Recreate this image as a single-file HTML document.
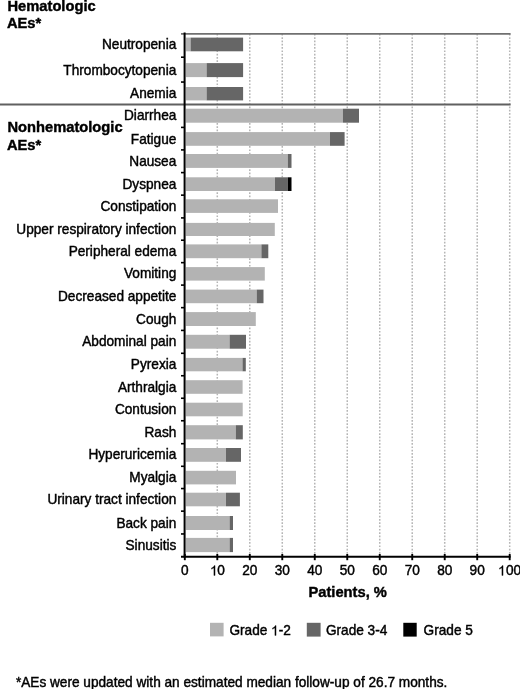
<!DOCTYPE html>
<html><head><meta charset="utf-8"><style>
html,body{margin:0;padding:0;background:#fff;}
body{filter:grayscale(1);width:520px;height:689px;position:relative;overflow:hidden;font-family:"Liberation Sans",sans-serif;color:#000;}
svg{position:absolute;left:0;top:0;}
.b{position:absolute;transform:scaleY(1.04);transform-origin:0 13.84px;-webkit-text-stroke:0.42px #000;font-weight:bold;font-size:14.7px;line-height:17.5px;white-space:nowrap;}
.r{position:absolute;transform:scaleY(1.04);transform-origin:0 12.73px;-webkit-text-stroke:0.42px #000;font-size:13.65px;line-height:16px;white-space:nowrap;}
.ra{text-align:right;}
.ca{width:60px;text-align:center;}
.one{display:inline-block;width:0.5562em;height:0.688em;vertical-align:baseline;}
.one svg{position:static;display:block;width:100%;height:100%;overflow:visible;}
</style></head><body>
<svg width="520" height="689" viewBox="0 0 520 689" shape-rendering="geometricPrecision">
<line x1="217.29" y1="33.90" x2="217.29" y2="556.70" stroke="#b5b5b5" stroke-width="1.5" stroke-dasharray="1.7 1.6"/>
<line x1="249.78" y1="33.90" x2="249.78" y2="556.70" stroke="#b5b5b5" stroke-width="1.5" stroke-dasharray="1.7 1.6"/>
<line x1="282.27" y1="33.90" x2="282.27" y2="556.70" stroke="#b5b5b5" stroke-width="1.5" stroke-dasharray="1.7 1.6"/>
<line x1="314.76" y1="33.90" x2="314.76" y2="556.70" stroke="#b5b5b5" stroke-width="1.5" stroke-dasharray="1.7 1.6"/>
<line x1="347.25" y1="33.90" x2="347.25" y2="556.70" stroke="#b5b5b5" stroke-width="1.5" stroke-dasharray="1.7 1.6"/>
<line x1="379.74" y1="33.90" x2="379.74" y2="556.70" stroke="#b5b5b5" stroke-width="1.5" stroke-dasharray="1.7 1.6"/>
<line x1="412.23" y1="33.90" x2="412.23" y2="556.70" stroke="#b5b5b5" stroke-width="1.5" stroke-dasharray="1.7 1.6"/>
<line x1="444.72" y1="33.90" x2="444.72" y2="556.70" stroke="#b5b5b5" stroke-width="1.5" stroke-dasharray="1.7 1.6"/>
<line x1="477.21" y1="33.90" x2="477.21" y2="556.70" stroke="#b5b5b5" stroke-width="1.5" stroke-dasharray="1.7 1.6"/>
<line x1="509.70" y1="33.90" x2="509.70" y2="556.70" stroke="#b5b5b5" stroke-width="1.5" stroke-dasharray="1.7 1.6"/>
<rect x="185.80" y="37.60" width="4.80" height="13.70" fill="#b3b3b3"/>
<rect x="190.60" y="37.60" width="52.50" height="13.70" fill="#666666"/>
<rect x="185.80" y="63.10" width="20.80" height="14.00" fill="#b3b3b3"/>
<rect x="206.60" y="63.10" width="36.50" height="14.00" fill="#666666"/>
<rect x="185.80" y="87.00" width="20.80" height="13.40" fill="#b3b3b3"/>
<rect x="206.60" y="87.00" width="36.50" height="13.40" fill="#666666"/>
<rect x="185.80" y="108.70" width="157.10" height="14.00" fill="#b3b3b3"/>
<rect x="342.90" y="108.70" width="16.10" height="14.00" fill="#666666"/>
<rect x="185.80" y="132.10" width="144.20" height="13.70" fill="#b3b3b3"/>
<rect x="330.00" y="132.10" width="14.60" height="13.70" fill="#666666"/>
<rect x="185.80" y="154.00" width="102.00" height="13.90" fill="#b3b3b3"/>
<rect x="287.80" y="154.00" width="3.70" height="13.90" fill="#666666"/>
<rect x="185.80" y="177.30" width="89.20" height="13.70" fill="#b3b3b3"/>
<rect x="275.00" y="177.30" width="12.80" height="13.70" fill="#666666"/>
<rect x="287.80" y="177.30" width="3.70" height="13.70" fill="#000000"/>
<rect x="185.80" y="199.30" width="92.20" height="13.60" fill="#b3b3b3"/>
<rect x="185.80" y="222.90" width="89.00" height="13.10" fill="#b3b3b3"/>
<rect x="185.80" y="244.40" width="75.60" height="13.80" fill="#b3b3b3"/>
<rect x="261.40" y="244.40" width="6.90" height="13.80" fill="#666666"/>
<rect x="185.80" y="267.10" width="79.00" height="13.50" fill="#b3b3b3"/>
<rect x="185.80" y="289.60" width="70.90" height="13.60" fill="#b3b3b3"/>
<rect x="256.70" y="289.60" width="6.80" height="13.60" fill="#666666"/>
<rect x="185.80" y="312.10" width="70.00" height="13.90" fill="#b3b3b3"/>
<rect x="185.80" y="334.80" width="43.80" height="13.90" fill="#b3b3b3"/>
<rect x="229.60" y="334.80" width="16.40" height="13.90" fill="#666666"/>
<rect x="185.80" y="357.90" width="56.70" height="13.40" fill="#b3b3b3"/>
<rect x="242.50" y="357.90" width="3.30" height="13.40" fill="#666666"/>
<rect x="185.80" y="380.20" width="56.80" height="13.60" fill="#b3b3b3"/>
<rect x="185.80" y="402.70" width="56.90" height="13.60" fill="#b3b3b3"/>
<rect x="185.80" y="425.20" width="50.00" height="14.20" fill="#b3b3b3"/>
<rect x="235.80" y="425.20" width="7.00" height="14.20" fill="#666666"/>
<rect x="185.80" y="448.00" width="40.20" height="13.80" fill="#b3b3b3"/>
<rect x="226.00" y="448.00" width="15.00" height="13.80" fill="#666666"/>
<rect x="185.80" y="470.80" width="50.20" height="13.60" fill="#b3b3b3"/>
<rect x="185.80" y="492.70" width="40.20" height="13.60" fill="#b3b3b3"/>
<rect x="226.00" y="492.70" width="13.90" height="13.60" fill="#666666"/>
<rect x="185.80" y="516.00" width="43.80" height="14.00" fill="#b3b3b3"/>
<rect x="229.60" y="516.00" width="3.40" height="14.00" fill="#666666"/>
<rect x="185.80" y="537.90" width="43.80" height="14.20" fill="#b3b3b3"/>
<rect x="229.60" y="537.90" width="3.40" height="14.20" fill="#666666"/>
<line x1="181" y1="33.90" x2="510.6" y2="33.90" stroke="#707070" stroke-width="1.8"/>
<line x1="0" y1="104.6" x2="510.6" y2="104.6" stroke="#606060" stroke-width="2"/>
<line x1="184.6" y1="32.5" x2="184.6" y2="557.6" stroke="#000" stroke-width="2"/>
<line x1="181" y1="556.70" x2="510.6" y2="556.70" stroke="#000" stroke-width="1.9"/>
<line x1="184.80" y1="554.0" x2="184.80" y2="560.2" stroke="#000" stroke-width="1.9"/>
<line x1="217.29" y1="554.0" x2="217.29" y2="560.2" stroke="#000" stroke-width="1.9"/>
<line x1="249.78" y1="554.0" x2="249.78" y2="560.2" stroke="#000" stroke-width="1.9"/>
<line x1="282.27" y1="554.0" x2="282.27" y2="560.2" stroke="#000" stroke-width="1.9"/>
<line x1="314.76" y1="554.0" x2="314.76" y2="560.2" stroke="#000" stroke-width="1.9"/>
<line x1="347.25" y1="554.0" x2="347.25" y2="560.2" stroke="#000" stroke-width="1.9"/>
<line x1="379.74" y1="554.0" x2="379.74" y2="560.2" stroke="#000" stroke-width="1.9"/>
<line x1="412.23" y1="554.0" x2="412.23" y2="560.2" stroke="#000" stroke-width="1.9"/>
<line x1="444.72" y1="554.0" x2="444.72" y2="560.2" stroke="#000" stroke-width="1.9"/>
<line x1="477.21" y1="554.0" x2="477.21" y2="560.2" stroke="#000" stroke-width="1.9"/>
<line x1="509.70" y1="554.0" x2="509.70" y2="560.2" stroke="#000" stroke-width="1.9"/>
<line x1="181" y1="57.20" x2="184.8" y2="57.20" stroke="#000" stroke-width="1.6"/>
<line x1="181" y1="82.05" x2="184.8" y2="82.05" stroke="#000" stroke-width="1.6"/>
<line x1="181" y1="127.40" x2="184.8" y2="127.40" stroke="#000" stroke-width="1.6"/>
<line x1="181" y1="149.90" x2="184.8" y2="149.90" stroke="#000" stroke-width="1.6"/>
<line x1="181" y1="172.60" x2="184.8" y2="172.60" stroke="#000" stroke-width="1.6"/>
<line x1="181" y1="195.15" x2="184.8" y2="195.15" stroke="#000" stroke-width="1.6"/>
<line x1="181" y1="217.90" x2="184.8" y2="217.90" stroke="#000" stroke-width="1.6"/>
<line x1="181" y1="240.20" x2="184.8" y2="240.20" stroke="#000" stroke-width="1.6"/>
<line x1="181" y1="262.65" x2="184.8" y2="262.65" stroke="#000" stroke-width="1.6"/>
<line x1="181" y1="285.10" x2="184.8" y2="285.10" stroke="#000" stroke-width="1.6"/>
<line x1="181" y1="307.65" x2="184.8" y2="307.65" stroke="#000" stroke-width="1.6"/>
<line x1="181" y1="330.40" x2="184.8" y2="330.40" stroke="#000" stroke-width="1.6"/>
<line x1="181" y1="353.30" x2="184.8" y2="353.30" stroke="#000" stroke-width="1.6"/>
<line x1="181" y1="375.75" x2="184.8" y2="375.75" stroke="#000" stroke-width="1.6"/>
<line x1="181" y1="398.25" x2="184.8" y2="398.25" stroke="#000" stroke-width="1.6"/>
<line x1="181" y1="420.75" x2="184.8" y2="420.75" stroke="#000" stroke-width="1.6"/>
<line x1="181" y1="443.70" x2="184.8" y2="443.70" stroke="#000" stroke-width="1.6"/>
<line x1="181" y1="466.30" x2="184.8" y2="466.30" stroke="#000" stroke-width="1.6"/>
<line x1="181" y1="488.55" x2="184.8" y2="488.55" stroke="#000" stroke-width="1.6"/>
<line x1="181" y1="511.15" x2="184.8" y2="511.15" stroke="#000" stroke-width="1.6"/>
<line x1="181" y1="533.95" x2="184.8" y2="533.95" stroke="#000" stroke-width="1.6"/>
<rect x="210" y="622.8" width="13.6" height="13.6" fill="#b3b3b3"/>
<rect x="306.8" y="622.8" width="13.8" height="13.8" fill="#666666"/>
<rect x="403.3" y="622.8" width="13.4" height="13.8" fill="#000000"/>
</svg>
<div class="b" style="left:7.50px;top:-1.84px">Hematologic</div>
<div class="b" style="left:6.90px;top:14.76px">AEs*</div>
<div class="b" style="left:7.50px;top:118.96px">Nonhematologic</div>
<div class="b" style="left:6.90px;top:136.66px">AEs*</div>
<div class="r ra" style="right:343.70px;top:37.01px">Neutropenia</div>
<div class="r ra" style="right:343.70px;top:62.66px">Thrombocytopenia</div>
<div class="r ra" style="right:343.70px;top:86.26px">Anemia</div>
<div class="r ra" style="right:343.70px;top:108.26px">Diarrhea</div>
<div class="r ra" style="right:343.70px;top:131.51px">Fatigue</div>
<div class="r ra" style="right:343.70px;top:153.51px">Nausea</div>
<div class="r ra" style="right:343.70px;top:176.71px">Dyspnea</div>
<div class="r ra" style="right:343.70px;top:198.66px">Constipation</div>
<div class="r ra" style="right:343.70px;top:222.01px">Upper respiratory infection</div>
<div class="r ra" style="right:343.70px;top:243.86px">Peripheral edema</div>
<div class="r ra" style="right:343.70px;top:266.41px">Vomiting</div>
<div class="r ra" style="right:343.70px;top:288.96px">Decreased appetite</div>
<div class="r ra" style="right:343.70px;top:311.61px">Cough</div>
<div class="r ra" style="right:343.70px;top:334.31px">Abdominal pain</div>
<div class="r ra" style="right:343.70px;top:357.16px">Pyrexia</div>
<div class="r ra" style="right:343.70px;top:379.56px">Arthralgia</div>
<div class="r ra" style="right:343.70px;top:402.06px">Contusion</div>
<div class="r ra" style="right:343.70px;top:424.86px">Rash</div>
<div class="r ra" style="right:343.70px;top:447.46px">Hyperuricemia</div>
<div class="r ra" style="right:343.70px;top:470.16px">Myalgia</div>
<div class="r ra" style="right:343.70px;top:492.06px">Urinary tract infection</div>
<div class="r ra" style="right:343.70px;top:515.56px">Back pain</div>
<div class="r ra" style="right:343.70px;top:537.56px">Sinusitis</div>
<div class="r ca" style="left:154.80px;top:562.87px">0</div>
<div class="r ca" style="left:187.29px;top:562.87px"><span class="one"><svg viewBox="0 0 1139 1409" preserveAspectRatio="none"><path transform="matrix(1 0 0 -1 0 1409)" d="M763 0H583V1098Q518 1038 413 979T225 890V1057Q376 1125 489 1221T649 1409H763Z" fill="#000" stroke="#000" stroke-width="45"/></svg></span>0</div>
<div class="r ca" style="left:219.78px;top:562.87px">20</div>
<div class="r ca" style="left:252.27px;top:562.87px">30</div>
<div class="r ca" style="left:284.76px;top:562.87px">40</div>
<div class="r ca" style="left:317.25px;top:562.87px">50</div>
<div class="r ca" style="left:349.74px;top:562.87px">60</div>
<div class="r ca" style="left:382.23px;top:562.87px">70</div>
<div class="r ca" style="left:414.72px;top:562.87px">80</div>
<div class="r ca" style="left:447.21px;top:562.87px">90</div>
<div class="r ca" style="left:479.70px;top:562.87px"><span class="one"><svg viewBox="0 0 1139 1409" preserveAspectRatio="none"><path transform="matrix(1 0 0 -1 0 1409)" d="M763 0H583V1098Q518 1038 413 979T225 890V1057Q376 1125 489 1221T649 1409H763Z" fill="#000" stroke="#000" stroke-width="45"/></svg></span>00</div>
<div class="b" style="left:308.5px;top:584.06px">Patients, %</div>
<div class="r" style="left:229.40px;top:623.27px">Grade <span class="one"><svg viewBox="0 0 1139 1409" preserveAspectRatio="none"><path transform="matrix(1 0 0 -1 0 1409)" d="M763 0H583V1098Q518 1038 413 979T225 890V1057Q376 1125 489 1221T649 1409H763Z" fill="#000" stroke="#000" stroke-width="45"/></svg></span>-2</div>
<div class="r" style="left:325.90px;top:623.27px">Grade 3-4</div>
<div class="r" style="left:423.60px;top:623.27px">Grade 5</div>
<div class="r" style="left:15.90px;top:674.97px">*AEs were updated with an estimated median follow-up of 26.7 months.</div>
</body></html>
